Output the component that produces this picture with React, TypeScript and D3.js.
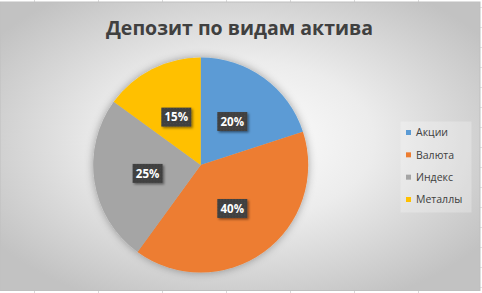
import React from "react";
import * as d3 from "d3";

const categories = ["Акции", "Валюта", "Индекс", "Металлы"];
const values = [20, 40, 25, 15];
const colors = ["#5B9BD5", "#ED7D31", "#A5A5A5", "#FFC000"];
const title = "Депозит по видам актива";
const gridCols = [34, 98, 162, 226, 290, 354, 418];
const gridRows = [7, 27, 47, 67, 87, 107, 127, 147, 167, 187, 207, 227, 247, 267, 287];

const W = 482;
const H = 293;

export default function App() {
  const cx = 200.7;
  const cy = 165;
  const r = 107.5;
  const total = d3.sum(values);
  const pie = d3.pie<number>().sort(null).value((d) => d)(values);
  const arc = d3.arc<d3.PieArcDatum<number>>().innerRadius(0).outerRadius(r);
  const legendY = d3.scalePoint<string>().domain(categories).range([132.5, 199.5]);

  return (
    <div style={{ position: "fixed", left: 0, top: 0 }}>
      <svg width={W} height={H} style={{ display: "block" }}>
        <defs>
          <radialGradient id="bg" cx="50%" cy="48%" r="62%">
            <stop offset="0" stopColor="#ffffff" />
            <stop offset="0.45" stopColor="#ececec" />
            <stop offset="1" stopColor="#c2c2c2" />
          </radialGradient>
          <filter id="pieShadow" x="-20%" y="-20%" width="140%" height="140%">
            <feDropShadow dx="0" dy="0" stdDeviation="4" floodColor="#000" floodOpacity="0.35" />
          </filter>
          <filter id="lblShadow" x="-30%" y="-30%" width="160%" height="160%">
            <feDropShadow dx="1.5" dy="1.5" stdDeviation="1" floodColor="#000" floodOpacity="0.45" />
          </filter>
          <pattern id="dots" width="3" height="3" patternUnits="userSpaceOnUse">
            <rect width="3" height="3" fill="#404040" />
            <rect width="1" height="1" fill="#4c4c4c" />
          </pattern>
        </defs>
        <rect x={0} y={0} width={W} height={H} fill="#ffffff" />
        {gridCols.map((x) => (
          <line key={"c" + x} x1={x + 0.5} x2={x + 0.5} y1={0} y2={H} stroke="#d9d9d9" />
        ))}
        {gridRows.map((y) => (
          <line key={"r" + y} x1={0} x2={W} y1={y + 0.5} y2={y + 0.5} stroke="#e3e3e3" />
        ))}
        <rect x={0} y={2} width={480} height={288.5} fill="url(#bg)" stroke="#bfbfbf" strokeWidth={1} />
        <text
          x={239.5}
          y={35}
          textAnchor="middle"
          fontFamily="'Open Sans', sans-serif"
          fontWeight="bold"
          fontSize={19.5}
          fill="#404040"
        >
          {title}
        </text>
        <g transform={`translate(${cx},${cy})`}>
          <g filter="url(#pieShadow)">
            {pie.map((p, i) => (
              <path key={i} d={arc(p) || ""} fill={colors[i]} />
            ))}
          </g>
          {pie.map((p, i) => {
            const [lx, ly] = arc.centroid(p);
            const label = `${Math.round((values[i] / total) * 100)}%`;
            return (
              <g key={"l" + i} transform={`translate(${lx},${ly})`}>
                <rect x={-15} y={-9.5} width={30} height={19} fill="url(#dots)" filter="url(#lblShadow)" />
                <text
                  y={4.2}
                  textAnchor="middle"
                  fontFamily="'Open Sans', sans-serif"
                  fontWeight="bold"
                  fontSize={11.5}
                  fill="#ffffff"
                >
                  {label}
                </text>
              </g>
            );
          })}
        </g>
        <rect x={400.5} y={121.5} width={71} height={91} fill="#ffffff" fillOpacity={0.25} />
        {categories.map((c, i) => (
          <g key={c} transform={`translate(406,${legendY(c)})`}>
            <rect x={0} y={-2.5} width={5} height={5} fill={colors[i]} />
            <text
              x={10}
              y={3.8}
              fontFamily="'Open Sans', sans-serif"
              fontSize={10.5}
              fill="#404040"
            >
              {c}
            </text>
          </g>
        ))}
      </svg>
    </div>
  );
}
